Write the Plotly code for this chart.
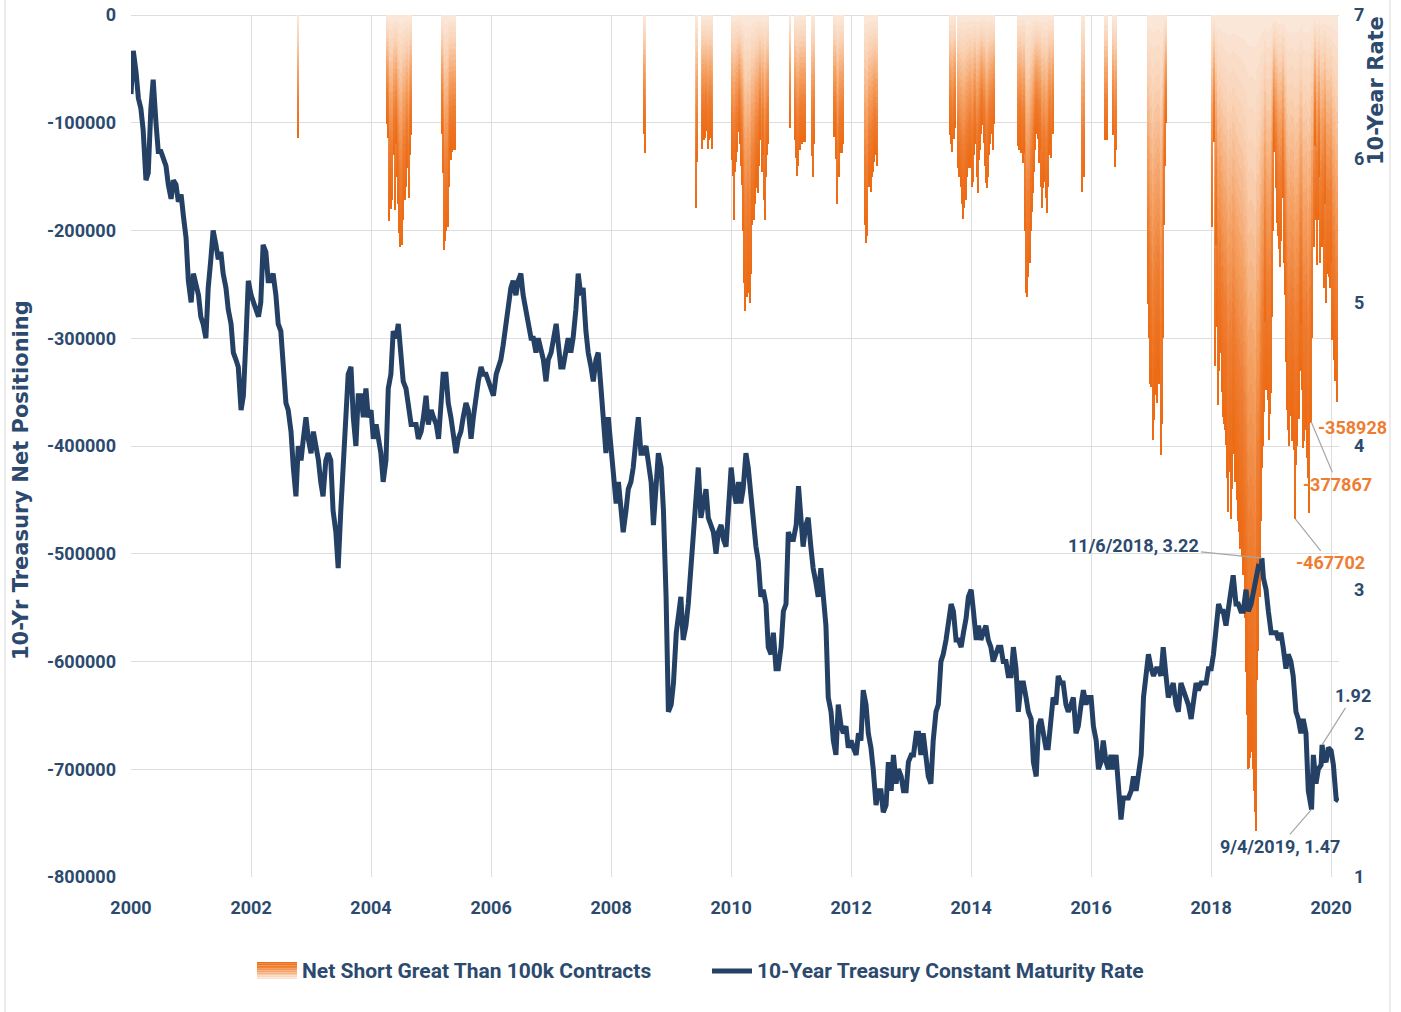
import numpy as np
import pandas as pd
import plotly.graph_objects as go

# ---------------- 10-Year Treasury rate (semi-monthly readings, 1st & 15th) ----------------
rate_2000 = [6.45, 6.75, 6.60, 6.42, 6.35, 6.20, 5.85, 5.90, 6.35, 6.55, 6.25, 6.05, 6.05, 6.00, 5.95, 5.82, 5.72, 5.85, 5.82, 5.70, 5.75, 5.60, 5.45, 5.15]
rate_2001 = [5.00, 5.20, 5.10, 5.05, 4.90, 4.85, 4.75, 5.10, 5.30, 5.50, 5.40, 5.30, 5.35, 5.20, 5.10, 4.95, 4.85, 4.65, 4.60, 4.55, 4.25, 4.35, 4.75, 5.15]
rate_2002 = [5.05, 5.00, 4.95, 4.90, 5.00, 5.40, 5.35, 5.15, 5.15, 5.20, 5.05, 4.85, 4.80, 4.60, 4.30, 4.25, 4.10, 3.85, 3.65, 4.00, 3.90, 4.05, 4.20, 4.05]
rate_2003 = [3.95, 4.10, 4.00, 3.90, 3.75, 3.65, 3.90, 3.95, 3.90, 3.55, 3.40, 3.15, 3.55, 3.85, 4.35, 4.50, 4.55, 4.20, 4.00, 4.35, 4.35, 4.20, 4.40, 4.20]
rate_2004 = [4.25, 4.05, 4.15, 4.05, 3.95, 3.75, 3.90, 4.40, 4.50, 4.80, 4.75, 4.85, 4.60, 4.45, 4.40, 4.25, 4.15, 4.15, 4.15, 4.05, 4.10, 4.20, 4.35, 4.15]
rate_2005 = [4.25, 4.20, 4.15, 4.05, 4.35, 4.50, 4.50, 4.30, 4.20, 4.10, 3.95, 4.05, 4.10, 4.20, 4.30, 4.25, 4.05, 4.20, 4.35, 4.45, 4.55, 4.50, 4.50, 4.45]
rate_2006 = [4.40, 4.35, 4.50, 4.55, 4.60, 4.70, 4.85, 5.00, 5.10, 5.15, 5.05, 5.15, 5.20, 5.05, 4.95, 4.85, 4.75, 4.75, 4.65, 4.75, 4.65, 4.60, 4.45, 4.60]
rate_2007 = [4.65, 4.75, 4.85, 4.70, 4.55, 4.55, 4.65, 4.75, 4.65, 4.75, 4.95, 5.20, 5.05, 5.10, 4.80, 4.65, 4.55, 4.45, 4.60, 4.65, 4.40, 4.20, 3.95, 4.20]
rate_2008 = [4.00, 3.75, 3.60, 3.75, 3.55, 3.40, 3.55, 3.70, 3.75, 3.85, 4.05, 4.20, 3.95, 3.95, 4.00, 3.85, 3.75, 3.45, 3.75, 3.95, 3.85, 3.55, 2.95, 2.15]
rate_2009 = [2.20, 2.35, 2.70, 2.85, 2.95, 2.65, 2.75, 2.90, 3.15, 3.25, 3.60, 3.85, 3.50, 3.60, 3.70, 3.50, 3.45, 3.40, 3.25, 3.40, 3.45, 3.35, 3.30, 3.60]
rate_2010 = [3.85, 3.70, 3.60, 3.75, 3.60, 3.70, 3.95, 3.85, 3.65, 3.45, 3.30, 3.20, 2.95, 3.00, 2.90, 2.60, 2.55, 2.70, 2.45, 2.45, 2.60, 2.85, 2.90, 3.40]
rate_2011 = [3.35, 3.35, 3.45, 3.72, 3.45, 3.30, 3.45, 3.50, 3.30, 3.15, 3.05, 2.95, 3.15, 2.95, 2.75, 2.25, 2.15, 1.95, 1.85, 2.20, 2.05, 2.00, 2.05, 1.90]
rate_2012 = [1.95, 1.90, 1.85, 2.00, 1.95, 2.30, 2.20, 2.00, 1.90, 1.75, 1.50, 1.60, 1.60, 1.45, 1.50, 1.80, 1.60, 1.85, 1.65, 1.75, 1.70, 1.60, 1.60, 1.80]
rate_2013 = [1.85, 1.85, 2.00, 2.00, 1.85, 2.00, 1.85, 1.70, 1.65, 1.95, 2.15, 2.20, 2.50, 2.55, 2.65, 2.80, 2.90, 2.85, 2.65, 2.65, 2.60, 2.70, 2.80, 2.95]
rate_2014 = [3.00, 2.85, 2.65, 2.75, 2.65, 2.70, 2.75, 2.65, 2.60, 2.50, 2.55, 2.60, 2.60, 2.50, 2.50, 2.40, 2.40, 2.60, 2.45, 2.15, 2.35, 2.35, 2.25, 2.15]
rate_2015 = [2.10, 1.80, 1.70, 2.05, 2.10, 2.00, 1.90, 1.90, 2.10, 2.25, 2.20, 2.40, 2.35, 2.35, 2.20, 2.15, 2.20, 2.25, 2.00, 2.05, 2.20, 2.30, 2.20, 2.25]
rate_2016 = [2.25, 2.05, 1.95, 1.75, 1.80, 1.95, 1.80, 1.75, 1.85, 1.75, 1.85, 1.60, 1.40, 1.55, 1.55, 1.55, 1.60, 1.70, 1.60, 1.75, 1.85, 2.25, 2.40, 2.55]
rate_2017 = [2.45, 2.40, 2.45, 2.45, 2.40, 2.60, 2.40, 2.25, 2.30, 2.35, 2.20, 2.15, 2.35, 2.30, 2.25, 2.20, 2.10, 2.20, 2.35, 2.30, 2.35, 2.35, 2.35, 2.45]
rate_2018 = [2.45, 2.55, 2.75, 2.90, 2.85, 2.85, 2.75, 2.85, 2.95, 3.10, 2.90, 2.90, 2.85, 2.85, 3.00, 2.85, 2.90, 3.00, 3.06, 3.16, 3.15, 3.08, 3.00, 2.85]
rate_2019 = [2.70, 2.70, 2.70, 2.65, 2.70, 2.60, 2.45, 2.55, 2.50, 2.40, 2.15, 2.10, 2.00, 2.10, 2.00, 1.60, 1.50, 1.85, 1.65, 1.75, 1.78, 1.83, 1.80, 1.90]
rate_2020 = [1.88, 1.78, 1.54, 1.53]

# labelled points on the rate line
key_dates = ["2018-11-06", "2019-09-04", "2019-11-07"]
key_rates = [3.22, 1.47, 1.92]
key_texts = ["11/6/2018, 3.22", "9/4/2019, 1.47", "1.92"]

# ---------------- Net short positioning > 100k contracts (weekly, thousands of contracts) ----------------
short_2002 = [-114]
short_2004 = [-101, -114, -191, -169, -180, -172, -130, -181, -120, -150, -175, -202, -215, -213, -190, -169, -172, -160, -142, -170, -130, -111]
short_2005 = [-110, -147, -218, -210, -200, -197, -160, -128, -135, -127, -125, -125]
short_2008 = [-110, -128]
short_2009a = [-179, -136]
short_2009b = [-124, -110, -116, -114, -108, -124, -116, -112, -114, -124]
short_2010 = [-135, -149, -190, -146, -136, -127, -109, -120, -140, -158, -200, -249, -275, -262, -249, -258, -267, -240, -195, -190, -175, -161, -150, -165, -140, -116, -146, -130, -172, -190, -150, -130, -120]
short_2011a = [-105]
short_2011b = [-116, -133, -149, -140, -125, -118, -120, -118, -116, -118]
short_2011c = [-131, -150, -120]
short_2011d = [-113, -113, -134, -175, -150, -128, -125, -128, -120]
short_2012 = [-195, -212, -205, -160, -158, -164, -150, -146, -136, -130, -140]
short_2013 = [-111, -120, -127, -115, -105, 0, 0, -142, -150, -160, -175, -189, -179, -167, -172, -150, -142, -136, -142, -160, -155, -130, -120, -150, -165, -135, -125, -110, -102, -119, -140, -156, -161, -150, -130, -120, -110, -125, -101]
short_2014 = [-122, -125, -118, -128, -137, -128, -200, -258, -262, -243, -230, -200, -183, -165, -146, -125, -110, -115, -137, -125, -160, -179, -161, -155, -170, -184, -160, -130, -120, -133, -110]
short_2015 = [-164, -150]
short_2016a = [-116, -116]
short_2016b = [-111, -141, -125]
short_2017 = [-268, -300, -342, -345, -394, -376, -353, -342, -360, -330, -342, -408, -380, -300, -195, -140, -100]
short_2018 = [-197, -118, -326, -213, -290, -362, -330, -314, -350, -373,
              -380, -385, -399, -430, -461, -424, -468, -440, -399, -407,
              -433, -450, -470, -480, -496, -490, -503, -520, -560, -610,
              -650, -700, -699, -690, -684, -700, -720, -740, -757, -617,
              -590, -540, -470, -420, -400, -368, -285, -348, -357, -394,
              -370, -351, -280, -200, -127, -161, -193, -205, -217, -234,
              -210, -170, -230, -260, -322, -367, -385, -400, -372, -395,
              -380, -404, -467.702, -418, -400, -375, -330, -288, -348, -402,
              -395, -385, -411, -430, -462, -379, -377.867, -300, -215, -122,
              -190, -232, -190, -150, -230, -215, -208, -253, -175, -267,
              -240, -243, -253, -230, -302, -299, -320, -340, -358.928]

short_starts = ["2002-10-15", "2004-04-06", "2005-03-08", "2008-07-22", "2009-06-02", "2009-07-07",
                "2010-01-05", "2010-12-28", "2011-01-25", "2011-05-10", "2011-09-20", "2012-03-27",
                "2013-08-27", "2014-10-14", "2015-11-10", "2016-03-29", "2016-05-17", "2016-12-13",
                "2018-01-09"]
short_lists = [short_2002, short_2004, short_2005, short_2008, short_2009a, short_2009b,
               short_2010, short_2011a, short_2011b, short_2011c, short_2011d, short_2012,
               short_2013, short_2014, short_2015, short_2016a, short_2016b, short_2017,
               short_2018]
labelled_shorts = [-467.702, -377.867, -358.928]

y_tickvals = [0, -100000, -200000, -300000, -400000, -500000, -600000, -700000, -800000]
y_ticktext = ["0", "-100000", "-200000", "-300000", "-400000", "-500000", "-600000", "-700000", "-800000"]
y2_tickvals = [1, 2, 3, 4, 5, 6, 7]
x_tickyears = [2000, 2002, 2004, 2006, 2008, 2010, 2012, 2014, 2016, 2018, 2020]

# ---------------- build series ----------------
rate_vals = (rate_2000 + rate_2001 + rate_2002 + rate_2003 + rate_2004 + rate_2005 + rate_2006 +
             rate_2007 + rate_2008 + rate_2009 + rate_2010 + rate_2011 + rate_2012 + rate_2013 +
             rate_2014 + rate_2015 + rate_2016 + rate_2017 + rate_2018 + rate_2019 + rate_2020)
rate_dates = pd.date_range("2000-01-01", periods=len(rate_vals), freq="SMS")
rate = pd.Series(rate_vals, index=rate_dates)
rate = pd.concat([rate, pd.Series(key_rates, index=pd.to_datetime(key_dates))]).sort_index()

bar_dates, bar_vals = [], []
for s, vals in zip(short_starts, short_lists):
    bar_dates.extend(pd.date_range(s, periods=len(vals), freq="7D"))
    bar_vals.extend(vals)
bar_dates = pd.DatetimeIndex(bar_dates)
bar_vals = np.array(bar_vals, dtype=float) * 1000.0

# ---------------- styling ----------------
NAVY = "#244064"
NAVY_TXT = "#2C4A6E"
ORANGE_TXT = "#EE7D31"
GRID = "#DEDEDE"
NARROW = "Roboto, Liberation Sans, sans-serif"
WIDE = "DejaVu Sans, sans-serif"

GRAD_T = [0.0, 0.2, 0.45, 0.7, 1.0]
GRAD_RGB = [(252, 234, 221), (250, 210, 180), (245, 163, 103), (239, 126, 50), (236, 106, 18)]


def grad(t):
    r = np.interp(t, GRAD_T, [c[0] for c in GRAD_RGB])
    g = np.interp(t, GRAD_T, [c[1] for c in GRAD_RGB])
    b = np.interp(t, GRAD_T, [c[2] for c in GRAD_RGB])
    return f"rgb({int(r)},{int(g)},{int(b)})"


W, H = 1401, 1012
PL, PR, PT, PB = 131, 1339, 15, 877  # plot area box in pixels


def xp(px):
    return (px - PL) / (PR - PL)


def yp(py):
    return (PB - py) / (PB - PT)


fig = go.Figure()

# gradient bars: each weekly bar split into stacked segments, light at top -> orange at bottom
NSEG = 24
WEEK_MS = 7 * 86400000
for k in range(NSEG):
    t = (k + 0.5) / NSEG
    fig.add_trace(go.Bar(
        x=bar_dates, y=bar_vals / NSEG, base=bar_vals * k / NSEG,
        width=WEEK_MS * 1.08,
        marker=dict(color=grad(t), line=dict(width=0)),
        showlegend=False, hoverinfo="skip", yaxis="y",
    ))

fig.add_trace(go.Scatter(
    x=rate.index, y=rate.values, mode="lines",
    line=dict(color=NAVY, width=5),
    yaxis="y2", showlegend=False, name="10-Year Treasury Constant Maturity Rate",
))

tick_font = dict(family=NARROW, size=18, color=NAVY_TXT, weight="bold")

fig.update_layout(
    width=W, height=H,
    margin=dict(l=PL, r=W - PR, t=PT, b=H - PB, autoexpand=False),
    paper_bgcolor="white", plot_bgcolor="white",
    barmode="overlay", bargap=0,
    xaxis=dict(
        type="date", range=["2000-01-01", "2020-02-18"],
        tickvals=[pd.Timestamp(f"{y}-01-01") for y in x_tickyears],
        ticktext=[str(y) for y in x_tickyears],
        showgrid=True, gridcolor=GRID, gridwidth=1, zeroline=False, showline=False,
        ticks="", tickfont=tick_font, ticklabelstandoff=18, automargin=False,
    ),
    yaxis=dict(
        range=[-800000, 0], tickvals=y_tickvals, ticktext=y_ticktext,
        showgrid=True, gridcolor=GRID, gridwidth=1, zeroline=True, zerolinecolor=GRID,
        zerolinewidth=1, showline=False, ticks="", tickfont=tick_font, ticklabelstandoff=14,
        automargin=False,
    ),
    yaxis2=dict(
        range=[1, 7], tickvals=y2_tickvals, overlaying="y", side="right",
        showgrid=False, zeroline=False, showline=False, ticks="",
        tickfont=tick_font, ticklabelstandoff=14, automargin=False,
    ),
    showlegend=False,
)

ann = []
# axis titles
ann.append(dict(text="10-Yr Treasury Net Positioning", xref="paper", yref="paper",
                x=xp(21), y=yp(480), textangle=-90, showarrow=False,
                font=dict(family=WIDE, size=21, color=NAVY_TXT, weight="bold"),
                xanchor="center", yanchor="middle"))
ann.append(dict(text="10-Year Rate", xref="paper", yref="paper",
                x=xp(1376), y=yp(91), textangle=-90, showarrow=False,
                font=dict(family=WIDE, size=21, color=NAVY_TXT, weight="bold"),
                xanchor="center", yanchor="middle"))

# rate annotations
rate_offsets = [(-128, -13), (-32, 37), (31, -49)]
for d, r, txt, (ax, ay) in zip(key_dates, key_rates, key_texts, rate_offsets):
    ann.append(dict(x=pd.Timestamp(d), y=r, xref="x", yref="y2", text=txt,
                    showarrow=True, arrowhead=0, arrowwidth=1.2, arrowcolor="#A6A6A6",
                    ax=ax, ay=ay, font=dict(family=NARROW, size=18, color=NAVY_TXT, weight="bold")))

# net-short annotations
short_offsets = [(35, 44), (26, 62), (16, 26)]
for v, (ax, ay) in zip(labelled_shorts, short_offsets):
    idx = int(np.argmin(np.abs(bar_vals - v * 1000.0)))
    ann.append(dict(x=bar_dates[idx], y=bar_vals[idx], xref="x", yref="y",
                    text=str(int(round(bar_vals[idx]))),
                    showarrow=(ay > 30), arrowhead=0, arrowwidth=1.2, arrowcolor="#A6A6A6",
                    ax=ax, ay=ay, xshift=0 if ay > 30 else ax, yshift=0 if ay > 30 else -ay,
                    font=dict(family=NARROW, size=18, color=ORANGE_TXT, weight="bold")))

# custom legend
ann.append(dict(text="Net Short Great Than 100k Contracts", xref="paper", yref="paper",
                x=xp(300), y=yp(971), xanchor="left", yanchor="middle", showarrow=False,
                font=dict(family=NARROW, size=21, color=NAVY_TXT, weight="bold")))
ann.append(dict(text="10-Year Treasury Constant Maturity Rate", xref="paper", yref="paper",
                x=xp(755), y=yp(971), xanchor="left", yanchor="middle", showarrow=False,
                font=dict(family=NARROW, size=21, color=NAVY_TXT, weight="bold")))

shapes = []
NSW = 10
for k in range(NSW):
    y0 = 962 + k * 17 / NSW
    y1 = 962 + (k + 1) * 17 / NSW
    shapes.append(dict(type="rect", xref="paper", yref="paper",
                       x0=xp(257), x1=xp(297), y0=yp(y1), y1=yp(y0),
                       fillcolor=grad(1 - (k + 0.5) / NSW), line=dict(width=0), layer="above"))
shapes.append(dict(type="line", xref="paper", yref="paper", x0=xp(712), x1=xp(752),
                   y0=yp(971), y1=yp(971), line=dict(color=NAVY, width=5)))
# chart frame
shapes.append(dict(type="line", xref="paper", yref="paper", x0=xp(5), x1=xp(5),
                   y0=yp(1012), y1=yp(0), line=dict(color="#D9D9D9", width=1)))
shapes.append(dict(type="line", xref="paper", yref="paper", x0=xp(1390), x1=xp(1390),
                   y0=yp(1012), y1=yp(0), line=dict(color="#D9D9D9", width=1)))

fig.update_layout(annotations=ann, shapes=shapes)

fig.write_html("out.html", config={"displayModeBar": False},
               post_script="document.body.style.margin='0';")
